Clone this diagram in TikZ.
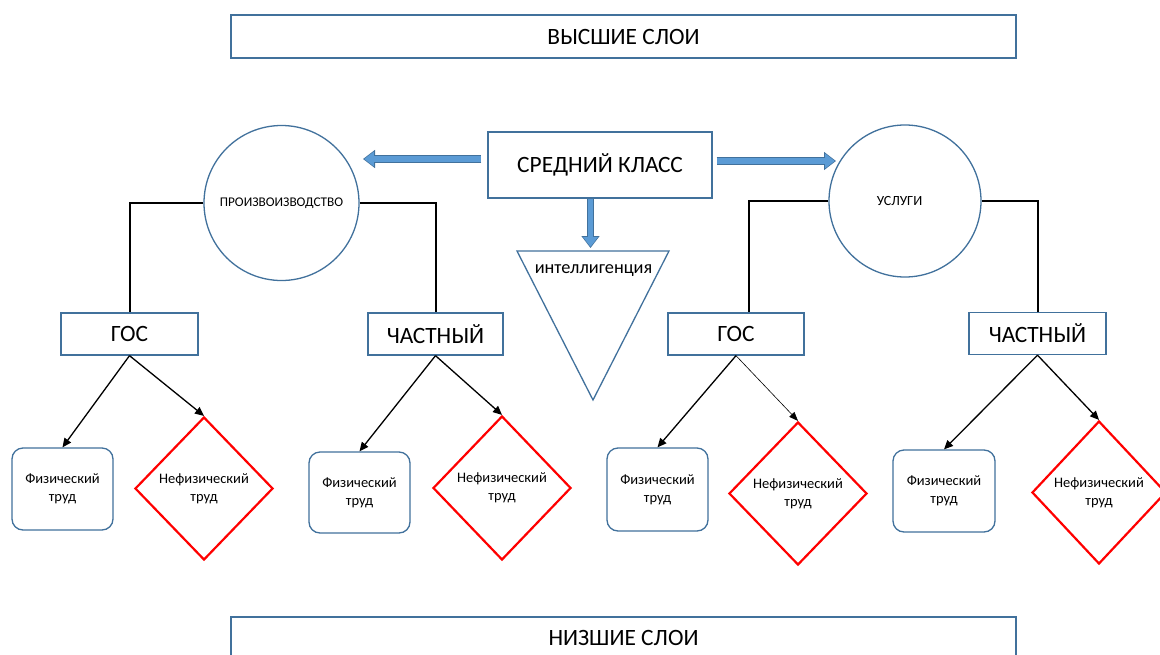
\documentclass[tikz,border=0pt]{standalone}
\usepackage{fontspec}
\setmainfont{Carlito}
\usetikzlibrary{shapes.geometric,arrows.meta}
\definecolor{obl}{HTML}{41719C}
\definecolor{fbl}{HTML}{5B9BD5}
\definecolor{rd}{HTML}{FF0000}
\begin{document}
\begin{tikzpicture}[x=1pt,y=-1pt,
  bigtext/.style={font=\fontsize{23.4}{27}\selectfont},
  layer/.style={draw=obl,line width=1.3pt,fill=white,rectangle,inner sep=0pt,bigtext},
  kind/.style={draw=obl,line width=1.3pt,fill=white,rectangle,inner sep=0pt,bigtext,minimum height=42pt},
  sector/.style={draw=obl,line width=1.3pt,circle,inner sep=0pt},
  fiz/.style={draw=obl,line width=1.3pt,rounded corners=11pt,rectangle,inner sep=0pt,align=center,
     font=\fontsize{14.5}{18}\selectfont},
  nefiz/.style={draw=rd,line width=2.2pt,diamond,inner sep=0pt,align=center,
     font=\fontsize{14.5}{18}\selectfont},
  elbow/.style={draw=black,line width=2pt},
  branch/.style={draw=black,line width=1.3pt,-{Triangle[length=9pt,width=8pt]}},
  thinbranch/.style={draw=black,line width=0.6pt,-{Triangle[length=9pt,width=7pt]}},
  barrowout/.style={draw=obl,line width=7.6pt,-{Triangle[length=12pt,width=17.5pt]}},
  barrowin/.style={draw=fbl,line width=5.6pt,-{Triangle[length=9.6pt,width=14pt]}}
]
\useasboundingbox (0,0) rectangle (1160,654);
\clip (0,0) rectangle (1160,654);
\fill[white] (0,0) rectangle (1160,654);

% layers
\node[layer,minimum width=785pt,minimum height=43pt] (top) at (623.5,36.5) {ВЫСШИЕ СЛОИ};
\node[layer,minimum width=785pt,minimum height=42pt,text depth=0pt] (bot) at (623.5,638) {\raisebox{1pt}{НИЗШИЕ СЛОИ}};

% middle class
\node[layer,minimum width=224pt,minimum height=66pt] (mid) at (600,165) {СРЕДНИЙ КЛАСС};

% sectors
\node[sector,minimum size=155pt,font=\fontsize{13.3}{16}\selectfont] (lc) at (281.5,203) {ПРОИЗВОИЗВОДСТВО};
\node[sector,minimum size=152pt,font=\fontsize{14}{16}\selectfont] (rc) at (905,201) {\hspace*{-11pt}УСЛУГИ};

% intelligentsia triangle
\draw[draw=obl,line width=1.3pt,fill=white] (517,251) -- (669,251) -- (593,400) -- cycle;
\node[font=\fontsize{18.3}{20}\selectfont,inner sep=0pt] (intel) at (593.5,271) {интеллигенция};

% block arrows
\coordinate (la) at (363,159);
\coordinate (ra) at (836,161);
\coordinate (da) at (590.5,248);
\draw[barrowout,shorten <=6pt] (mid.west |- la) -- (la);
\draw[barrowin,shorten <=6.8pt,shorten >=1.2pt] (mid.west |- la) -- (la);
\draw[barrowout,shorten <=4pt] (mid.east |- ra) -- (ra);
\draw[barrowin,shorten <=4.8pt,shorten >=1.2pt] (mid.east |- ra) -- (ra);
\draw[barrowout] (mid.south -| da) -- (da);
\draw[barrowin,shorten <=0.8pt,shorten >=1.2pt] (mid.south -| da) -- (da);

% ownership boxes
\node[kind,minimum width=137pt] (g1) at (129.5,334) {ГОС};
\node[kind,minimum width=135pt] (c1) at (435.5,334) {ЧАСТНЫЙ};
\node[kind,minimum width=136pt] (g2) at (736,334) {ГОС};
\node[kind,minimum width=137pt] (c2) at (1037.5,333.5) {ЧАСТНЫЙ};

% elbows
\draw[elbow] (lc.west) -| (g1.north);
\draw[elbow] (lc.east) -| (c1.north);
\draw[elbow] (rc.west) -| ([xshift=13pt]g2.north);
\draw[elbow] (rc.east) -| (c2.north);

% labour kinds
\node[fiz,minimum width=101pt,minimum height=82pt] (f1) at (62.5,489) {Физический\\труд};
\node[fiz,minimum width=101pt,minimum height=81pt] (f2) at (359.5,492.5) {Физический\\труд};
\node[fiz,minimum width=101pt,minimum height=83pt] (f3) at (657.5,489.5) {Физический\\труд};
\node[fiz,minimum width=102pt,minimum height=82pt] (f4) at (944,491) {Физический\\труд};

\node[nefiz,minimum width=138pt,minimum height=143pt] (n1) at (204,488.5) {Нефизический\\труд};
\node[nefiz,minimum width=138pt,minimum height=144pt] (n2) at (502,488) {Нефизический\\труд};
\node[nefiz,minimum width=138pt,minimum height=143pt] (n3) at (798,493.5) {Нефизический\\труд};
\node[nefiz,minimum width=134pt,minimum height=143pt] (n4) at (1099,492.5) {Нефизический\\труд};

% branches
\draw[branch] (g1.south) -- (f1.north);
\draw[branch] (g1.south) -- (n1.north);
\draw[branch] (c1.south) -- (f2.north);
\draw[branch] (c1.south) -- (n2.north);
\draw[branch] (g2.south) -- (f3.north);
\draw[thinbranch] (g2.south) -- (n3.north);
\draw[branch] (c2.south) -- (f4.north);
\draw[branch] (c2.south) -- (n4.north);
\end{tikzpicture}
\end{document}
